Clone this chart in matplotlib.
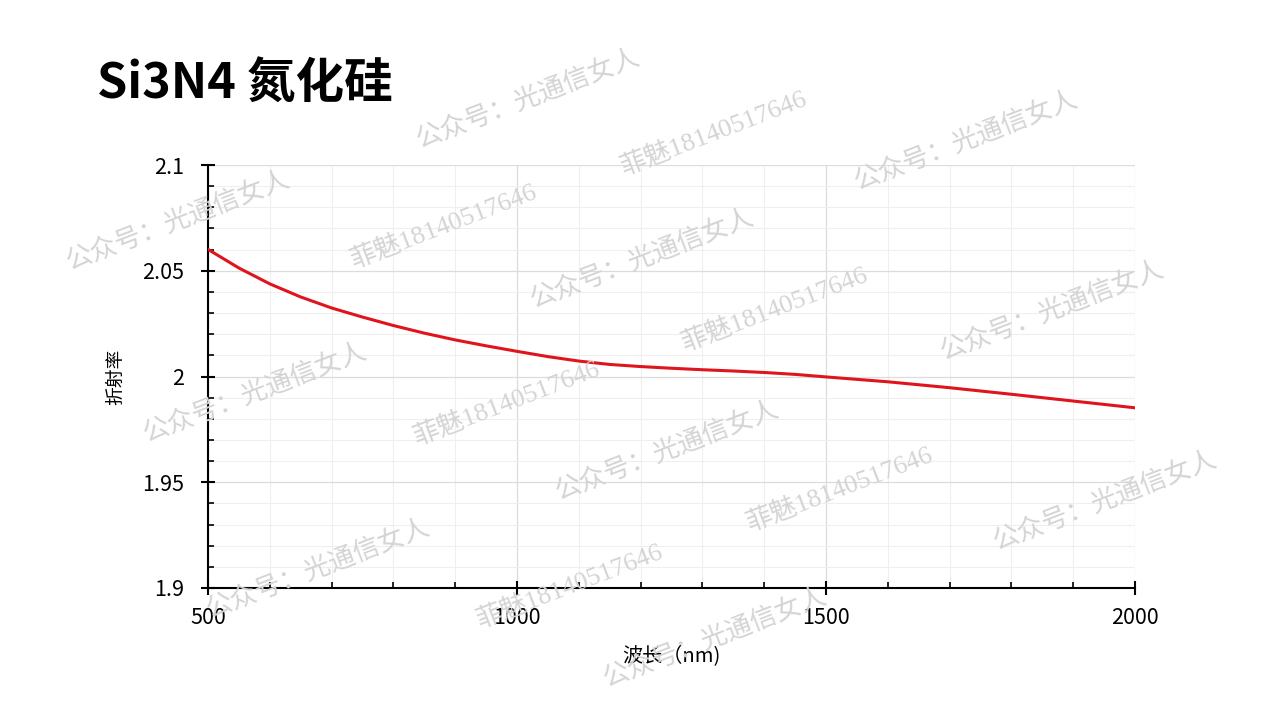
import numpy as np
import matplotlib.pyplot as plt
from matplotlib.ticker import MultipleLocator

plt.rcParams['font.family'] = ['Noto Sans CJK SC', 'DejaVu Sans']

# wavelength (nm) and refractive index
wavelength = [500, 550, 600, 650, 700, 750, 800, 850, 900, 950, 1000,
              1050, 1100, 1150, 1200, 1250, 1300, 1350, 1400, 1450, 1500,
              1600, 1700, 1800, 1900, 2000]
n_index = [2.0601, 2.0513, 2.0438, 2.0376, 2.0324, 2.0281, 2.0241, 2.0205,
           2.0173, 2.0145, 2.0119, 2.0094, 2.0073, 2.0057, 2.0047, 2.0039,
           2.0032, 2.0026, 2.0019, 2.0010, 1.9998, 1.9975, 1.9947, 1.9916,
           1.9884, 1.9852]

title = "Si3N4 氮化硅"
xlabel = "波长（nm)"
ylabel = "折射率"

wm1 = "公众号：光通信女人"
wm2 = "菲魅18140517646"
# watermark centres in pixels (x, y from top)
wm1_pos = [(528, 98), (966, 140), (178, 220), (642, 258), (1052, 310),
           (255, 392), (667, 450), (1105, 500), (318, 568), (715, 637)]
wm2_pos = [(714, 132), (444, 225), (775, 308), (507, 402), (840, 488),
           (570, 585)]

W, H = 1268, 713
fig = plt.figure(figsize=(W / 100, H / 100), dpi=100)
ax = fig.add_axes([208 / W, 1 - 588 / H, (1135 - 208) / W, (588 - 165) / H])

ax.plot(wavelength, n_index, color='#e0141c', lw=2.2, zorder=3)

ax.set_xlim(500, 2000)
ax.set_ylim(1.9, 2.1)
ax.xaxis.set_major_locator(MultipleLocator(500))
ax.xaxis.set_minor_locator(MultipleLocator(100))
ax.yaxis.set_minor_locator(MultipleLocator(0.01))
ax.set_yticks([1.9, 1.95, 2.0, 2.05, 2.1])
ax.set_yticklabels(['1.9', '1.95', '2', '2.05', '2.1'])

ax.grid(which='major', color='#dcdcdc', lw=0.9)
ax.grid(which='minor', color='#efefef', lw=0.8)
ax.set_axisbelow(True)

for s in ['top', 'right']:
    ax.spines[s].set_visible(False)
for s in ['left', 'bottom']:
    ax.spines[s].set_linewidth(1.5)
    ax.spines[s].set_color('black')

ax.tick_params(which='major', direction='inout', length=10, width=1.5,
               labelsize=15.5)
ax.tick_params(axis='x', which='major', pad=9)
ax.tick_params(axis='y', which='major', pad=12)
ax.tick_params(which='minor', direction='in', length=4, width=1.2)

ax.set_xlabel(xlabel, fontsize=14.5, labelpad=12)
ax.set_ylabel(ylabel, fontsize=13.5, labelpad=12)

fig.text(97 / W, 1 - 83 / H, title, fontsize=35, fontweight='bold',
         va='center', ha='left')

for (x, y) in wm1_pos:
    fig.text(x / W, 1 - y / H, wm1, fontsize=19, color='#d4d4d4',
             rotation=21, ha='center', va='center', zorder=10,
             fontweight='light')
for (x, y) in wm2_pos:
    fig.text(x / W, 1 - y / H, wm2, fontsize=19, color='#d4d4d4',
             rotation=21, ha='center', va='center', zorder=10,
             family=['Liberation Serif', 'Noto Sans CJK SC'])

fig.savefig('out.png', dpi=100)
